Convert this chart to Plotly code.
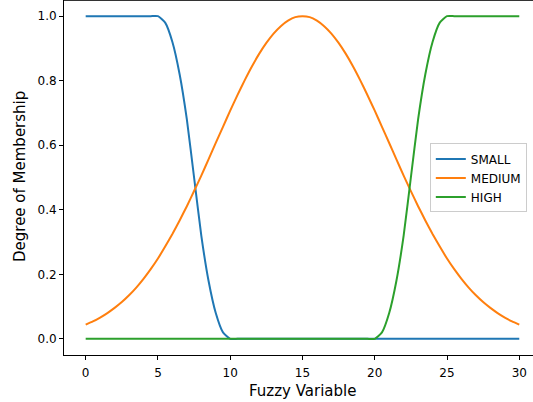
import plotly.graph_objects as go

x_values = [0.0, 0.5, 1.0, 1.5, 2.0, 2.5, 3.0, 3.5, 4.0, 4.5, 5.0, 5.5, 6.0, 6.5, 7.0, 7.5, 8.0, 8.5, 9.0, 9.5,
            10.0, 10.5, 11.0, 11.5, 12.0, 12.5, 13.0, 13.5, 14.0, 14.5, 15.0, 15.5, 16.0, 16.5, 17.0, 17.5, 18.0, 18.5, 19.0, 19.5,
            20.0, 20.5, 21.0, 21.5, 22.0, 22.5, 23.0, 23.5, 24.0, 24.5, 25.0, 25.5, 26.0, 26.5, 27.0, 27.5, 28.0, 28.5, 29.0, 29.5, 30.0]

small = [1, 1, 1, 1, 1, 1, 1, 1, 1, 1, 1, 0.98, 0.92, 0.82, 0.68, 0.50, 0.32, 0.18, 0.08, 0.02,
         0, 0, 0, 0, 0, 0, 0, 0, 0, 0, 0, 0, 0, 0, 0, 0, 0, 0, 0, 0,
         0, 0, 0, 0, 0, 0, 0, 0, 0, 0, 0, 0, 0, 0, 0, 0, 0, 0, 0, 0, 0]

medium = [0.044, 0.054, 0.066, 0.080, 0.096, 0.114, 0.135, 0.159, 0.186, 0.216, 0.249, 0.286, 0.325, 0.367, 0.411, 0.458,
          0.506, 0.556, 0.607, 0.657, 0.707, 0.755, 0.801, 0.844, 0.883, 0.917, 0.946, 0.969, 0.986, 0.997, 1.0,
          0.997, 0.986, 0.969, 0.946, 0.917, 0.883, 0.844, 0.801, 0.755, 0.707, 0.657, 0.607, 0.556, 0.506,
          0.458, 0.411, 0.367, 0.325, 0.286, 0.249, 0.216, 0.186, 0.159, 0.135, 0.114, 0.096, 0.080, 0.066, 0.054, 0.044]

high = [0, 0, 0, 0, 0, 0, 0, 0, 0, 0, 0, 0, 0, 0, 0, 0, 0, 0, 0, 0,
        0, 0, 0, 0, 0, 0, 0, 0, 0, 0, 0, 0, 0, 0, 0, 0, 0, 0, 0, 0,
        0, 0.02, 0.08, 0.18, 0.32, 0.50, 0.68, 0.82, 0.92, 0.98, 1, 1, 1, 1, 1, 1, 1, 1, 1, 1, 1]

series_names = ["SMALL", "MEDIUM", "HIGH"]
series_values = [small, medium, high]
series_colors = ["#1f77b4", "#ff7f0e", "#2ca02c"]

x_ticks = [0, 5, 10, 15, 20, 25, 30]
y_ticks = [0.0, 0.2, 0.4, 0.6, 0.8, 1.0]

fig = go.Figure()
for name, vals, col in zip(series_names, series_values, series_colors):
    fig.add_trace(go.Scatter(x=x_values, y=vals, mode="lines", name=name,
                             line=dict(color=col, width=2, shape="spline", smoothing=0.5)))

FONT = "DejaVu Sans"
fig.update_layout(
    width=533, height=402,
    margin=dict(l=64, r=0, t=0, b=47, pad=0, autoexpand=False),
    paper_bgcolor="white", plot_bgcolor="white",
    font=dict(family=FONT, size=12, color="black"),
    showlegend=True,
    legend=dict(x=0.78, y=0.596, xanchor="left", yanchor="top",
                bgcolor="rgba(255,255,255,0.8)", bordercolor="#cccccc", borderwidth=1,
                font=dict(family=FONT, size=12, color="black"), itemwidth=30,
                tracegroupgap=0),
    xaxis=dict(range=[-1.5, 30.95], tickvals=x_ticks, ticktext=[str(t) for t in x_ticks],
               showgrid=False, zeroline=False, showline=True, mirror=True, linecolor="black", linewidth=1,
               ticks="outside", ticklen=4, tickcolor="black", tickwidth=1, automargin=False,
               ticklabelstandoff=3,
               tickfont=dict(family=FONT, size=12, color="black")),
    yaxis=dict(range=[-0.05, 1.05], tickvals=y_ticks, ticktext=["%.1f" % t for t in y_ticks],
               showgrid=False, zeroline=False, showline=True, mirror=False, linecolor="black", linewidth=1,
               ticks="outside", ticklen=4, tickcolor="black", tickwidth=1, automargin=False,
               tickfont=dict(family=FONT, size=12, color="black")),
    shapes=[dict(type="line", xref="paper", yref="paper", x0=0, x1=1, y0=1, y1=1,
                 line=dict(color="#333333", width=2))],
    annotations=[
        dict(text="Fuzzy Variable", xref="paper", yref="paper", x=(302.5 - 64) / 469, y=(355 - 380) / 355,
             xanchor="center", yanchor="top", showarrow=False,
             font=dict(family=FONT, size=15, color="black")),
        dict(text="Degree of Membership", xref="paper", yref="paper", x=(20 - 64) / 469, y=(355 - 177) / 355,
             xanchor="center", yanchor="middle", textangle=-90, showarrow=False,
             font=dict(family=FONT, size=15, color="black")),
    ],
)

fig.write_html("out.html", config={"displayModeBar": False},
               post_script="document.body.style.margin='0';document.body.style.overflow='hidden';")
